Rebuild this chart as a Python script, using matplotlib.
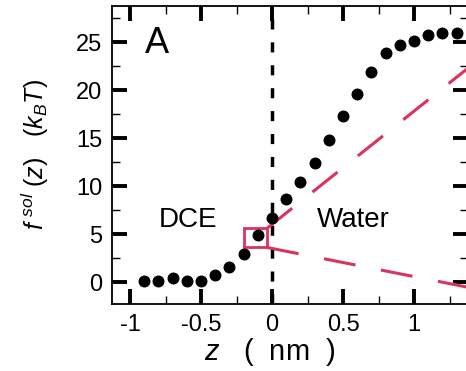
"""Solvation free energy profile across the DCE/water interface (panel A)."""
import matplotlib

matplotlib.use("Agg")
import matplotlib.pyplot as plt
from matplotlib.patches import Rectangle
from matplotlib.ticker import FixedLocator

# values
z_nm = [-0.9, -0.8, -0.7, -0.6, -0.5, -0.4, -0.3, -0.2, -0.1, 0.0, 0.1, 0.2,
        0.3, 0.4, 0.5, 0.6, 0.7, 0.8, 0.9, 1.0, 1.1, 1.2, 1.3]
f_sol = [0.1, 0.1, 0.4, 0.1, 0.1, 0.7, 1.6, 2.9, 4.9, 6.7, 8.7, 10.4,
         12.4, 14.8, 17.3, 19.6, 21.9, 23.9, 24.7, 25.1, 25.7, 25.9, 25.9]
x_ticks = [-1, -0.5, 0, 0.5, 1]
x_ticklabels = ["-1", "-0.5", "0", "0.5", "1"]
x_minor = [-0.75, -0.25, 0.25, 0.75, 1.25]
y_ticks = [0, 5, 10, 15, 20, 25]
y_minor = [-2.5, 2.5, 7.5, 12.5, 17.5, 22.5, 27.5]

# zoom box around the z = -0.1 point and the two guide lines leaving it
box_x = [-0.197, -0.035]
box_y = [3.6, 5.6]
guide_x = [-0.035, 1.5]
guide_upper = [5.6, 23.7]
guide_lower = [3.6, -0.9]

RED = "#d8345f"

plt.rcParams["font.family"] = ["Liberation Sans", "DejaVu Sans"]
plt.rcParams["mathtext.fontset"] = "custom"
plt.rcParams["mathtext.rm"] = "Liberation Sans"
plt.rcParams["mathtext.it"] = "Liberation Sans:italic"

fig = plt.figure(figsize=(4.66, 3.71), dpi=100)
ax = fig.add_axes([0.2403, 0.1806, 0.764, 0.803])

ax.axvline(0, color="black", lw=2.5, dashes=(2.9, 3.7), zorder=2)

for gy in (guide_upper, guide_lower):
    line, = ax.plot(guide_x, gy, color=RED, lw=2.2, zorder=3)
    line.set_dashes((10.5, 8.5))

ax.add_patch(Rectangle((box_x[0], box_y[0]), box_x[1] - box_x[0], box_y[1] - box_y[0],
                       fill=False, edgecolor=RED, lw=2.0, zorder=4))

ax.plot(z_nm, f_sol, "o", color="black", ms=7.6, zorder=5)

ax.set_xlim(-1.127, 1.38)
ax.set_ylim(-2.29, 28.75)
ax.set_xticks(x_ticks)
ax.set_xticklabels(x_ticklabels)
ax.set_yticks(y_ticks)
ax.xaxis.set_minor_locator(FixedLocator(x_minor))
ax.yaxis.set_minor_locator(FixedLocator(y_minor))

ax.tick_params(which="both", direction="in", top=True, right=True)
ax.tick_params(which="major", length=11, width=2.8, labelsize=17, pad=7)
ax.tick_params(which="minor", length=6, width=1.0)
for s in ax.spines.values():
    s.set_linewidth(1.3)

ax.text(-0.894, 23.85, "A", fontsize=26)
ax.text(-0.80, 5.7, "DCE", fontsize=20)
ax.text(0.317, 5.7, "Water", fontsize=20)

fig.text(35 / 466, 1 - 155 / 371, r"$f^{\ sol}\ (z)\ \ \ (k_BT)$", rotation=90,
         ha="center", va="center", fontsize=18)
fig.text(270 / 466, 1 - 352 / 371, r"$z$   (  nm  )", ha="center", va="center", fontsize=21)

fig.savefig("out.png", dpi=100)
